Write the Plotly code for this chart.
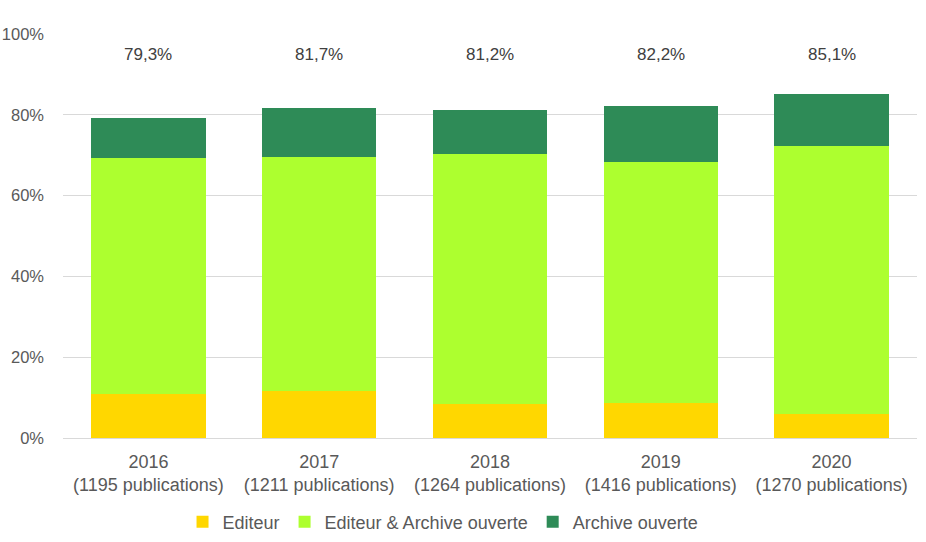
import plotly.graph_objects as go

years = ["2016", "2017", "2018", "2019", "2020"]
pubs = [1195, 1211, 1264, 1416, 1270]
editeur = [11.0, 11.7, 8.5, 8.7, 6.0]
editeur_ao = [58.3, 57.8, 61.7, 59.6, 66.2]
archive = [10.0, 12.2, 11.0, 13.9, 12.9]
totals = ["79,3%", "81,7%", "81,2%", "82,2%", "85,1%"]
label_y = 95

cats = [f"{y}<br>({p} publications)" for y, p in zip(years, pubs)]

font = "Liberation Sans, Arial, sans-serif"
txtc = "#595959"

fig = go.Figure()
for vals, name, col in [(editeur, "Editeur", "#FFD700"),
                        (editeur_ao, "Editeur & Archive ouverte", "#ADFF2F"),
                        (archive, "Archive ouverte", "#2E8B57")]:
    fig.add_bar(x=cats, y=vals, name=name, marker=dict(color=col, line=dict(width=0)))

for c, t in zip(cats, totals):
    fig.add_annotation(x=c, y=label_y, text=t, showarrow=False,
                       font=dict(size=17, color="#404040", family=font))

fig.update_layout(
    barmode="stack",
    bargap=0.33,
    width=926, height=542,
    margin=dict(l=63, r=9, t=34, b=104, autoexpand=False),
    paper_bgcolor="white", plot_bgcolor="white",
    font=dict(family=font, size=17, color=txtc),
    legend=dict(orientation="h", x=0.445, xanchor="center", y=0.037, yanchor="middle",
                yref="container",
                font=dict(size=18, color=txtc), traceorder="normal", itemwidth=30),
    yaxis=dict(range=[0, 100], dtick=20, ticksuffix="%", showgrid=True,
               gridcolor="#d9d9d9", gridwidth=1, zeroline=False, automargin=False,
               ticklabelstandoff=18, tickfont=dict(size=16.5, color=txtc)),
    xaxis=dict(showline=True, linecolor="#d9d9d9", linewidth=1, automargin=False,
               ticklabelstandoff=7, tickfont=dict(size=18, color=txtc)),
)

fig.write_html("out.html", config={"displayModeBar": False},
               post_script="document.body.style.margin='0px';")
